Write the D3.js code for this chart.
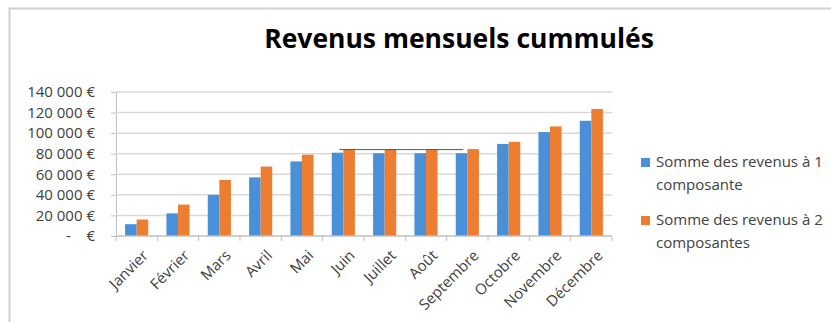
<!DOCTYPE html>
<html>
<head>
<meta charset="utf-8">
<script src="https://cdn.jsdelivr.net/npm/d3@7"></script>
<style>
body { margin: 0; background: #fff; }
text { font-family: "Open Sans", sans-serif; fill: #404040; }
</style>
</head>
<body>
<script>
// données
var months = ["Janvier", "Février", "Mars", "Avril", "Mai", "Juin", "Juillet", "Août", "Septembre", "Octobre", "Novembre", "Décembre"];
var oneComp = [11500, 22000, 40000, 57000, 72500, 81000, 80500, 80500, 80500, 89500, 101000, 112000];
var twoComp = [16000, 30500, 54500, 67500, 79000, 84500, 84500, 84500, 84500, 91500, 106500, 123500];
var yTicks = [0, 20000, 40000, 60000, 80000, 100000, 120000, 140000];
var seriesNames = ["Somme des revenus à 1|composante", "Somme des revenus à 2|composantes"];
var colors = ["#4a90d9", "#ed7d31"];

var W = 831, H = 322;
var margin = {top: 92, right: 219, bottom: 86, left: 116},
    width = W - margin.left - margin.right,
    height = H - margin.top - margin.bottom;

var svg = d3.select("body").append("svg")
    .attr("width", W)
    .attr("height", H);

// cadre
svg.append("line").attr("x1", 9).attr("x2", W).attr("y1", 8.5).attr("y2", 8.5)
    .attr("stroke", "#d0d0d0").attr("stroke-width", 2);
svg.append("line").attr("x1", 9.5).attr("x2", 9.5).attr("y1", 8).attr("y2", H)
    .attr("stroke", "#d0d0d0").attr("stroke-width", 2);

svg.append("text")
    .attr("x", 459).attr("y", 48)
    .style("text-anchor", "middle")
    .style("font-size", "26.5px")
    .style("font-weight", "bold")
    .style("fill", "#000")
    .text("Revenus mensuels cummulés");

var g = svg.append("g")
    .attr("transform", "translate(" + margin.left + "," + margin.top + ")");

var x = d3.scaleBand().domain(months).range([0, width]).paddingInner(0.44).paddingOuter(0.22);
var xs = d3.scaleBand().domain([0, 1]).range([0, x.bandwidth()]);
var y = d3.scaleLinear().domain([0, 140000]).range([height, 0]);

var fmt = function(d) {
  if (d == 0) return "-    €";
  return d3.format(",")(d).replace(/,/g, " ") + " €";
};

var yAxis = d3.axisLeft(y).tickValues(yTicks).tickSize(5).tickPadding(16).tickFormat(fmt);
var ya = g.append("g").attr("class", "y axis").call(yAxis);
ya.select(".domain").attr("stroke", "#bfbfbf");
ya.selectAll(".tick line").attr("stroke", "#bfbfbf");
ya.selectAll("text").style("font-size", "15px").attr("fill", "#404040")
    .style("white-space", "pre");

// grille
g.selectAll(".grid")
    .data(yTicks.filter(function(d) { return d > 0; }))
  .enter().append("line")
    .attr("class", "grid")
    .attr("x1", 0).attr("x2", width)
    .attr("y1", function(d) { return y(d); })
    .attr("y2", function(d) { return y(d); })
    .attr("stroke", "#d9d9d9")
    .attr("stroke-width", 1.5);

// barres
var groups = g.selectAll(".month")
    .data(months)
  .enter().append("g")
    .attr("class", "month")
    .attr("transform", function(d) { return "translate(" + x(d) + ",0)"; });

groups.append("rect")
    .attr("x", xs(0)).attr("width", xs.bandwidth())
    .attr("y", function(d, i) { return y(oneComp[i]); })
    .attr("height", function(d, i) { return height - y(oneComp[i]); })
    .attr("fill", colors[0]);

groups.append("rect")
    .attr("x", xs(1)).attr("width", xs.bandwidth())
    .attr("y", function(d, i) { return y(twoComp[i]); })
    .attr("height", function(d, i) { return height - y(twoComp[i]); })
    .attr("fill", colors[1]);

// trait sombre visible de Juin à Septembre
g.append("line")
    .attr("x1", x("Juin") + xs(1) - 4)
    .attr("x2", x("Septembre") + xs(1) - 4)
    .attr("y1", y(twoComp[5]) + 0.5)
    .attr("y2", y(twoComp[5]) + 0.5)
    .attr("stroke", "#595959").attr("stroke-width", 1);

// axe x
var step = x.step();
g.append("line")
    .attr("x1", 0).attr("x2", width)
    .attr("y1", height).attr("y2", height)
    .attr("stroke", "#bfbfbf").attr("stroke-width", 1.5);
g.selectAll(".xtick")
    .data(d3.range(months.length + 1))
  .enter().append("line")
    .attr("x1", function(i) { return i * step; })
    .attr("x2", function(i) { return i * step; })
    .attr("y1", height).attr("y2", height + 5)
    .attr("stroke", "#bfbfbf");

g.selectAll(".xlabel")
    .data(months)
  .enter().append("text")
    .attr("class", "xlabel")
    .attr("transform", function(d) {
      return "translate(" + (x(d) + x.bandwidth() / 2 + 5) + "," + (height + 13) + ") rotate(-45)";
    })
    .attr("dy", "0.7em")
    .style("text-anchor", "end")
    .style("font-size", "15px")
    .text(function(d) { return d; });

// légende
var leg = svg.selectAll(".legend")
    .data(seriesNames)
  .enter().append("g")
    .attr("class", "legend")
    .attr("transform", function(d, i) { return "translate(641," + (158 + i * 58) + ")"; });

leg.append("rect")
    .attr("width", 9).attr("height", 9)
    .attr("fill", function(d, i) { return colors[i]; });

leg.append("text")
    .attr("x", 15).attr("y", 9)
    .style("font-size", "15px")
    .text(function(d) { return d.split("|")[0]; });
leg.append("text")
    .attr("x", 15).attr("y", 32)
    .style("font-size", "15px")
    .text(function(d) { return d.split("|")[1]; });
</script>
</body>
</html>
